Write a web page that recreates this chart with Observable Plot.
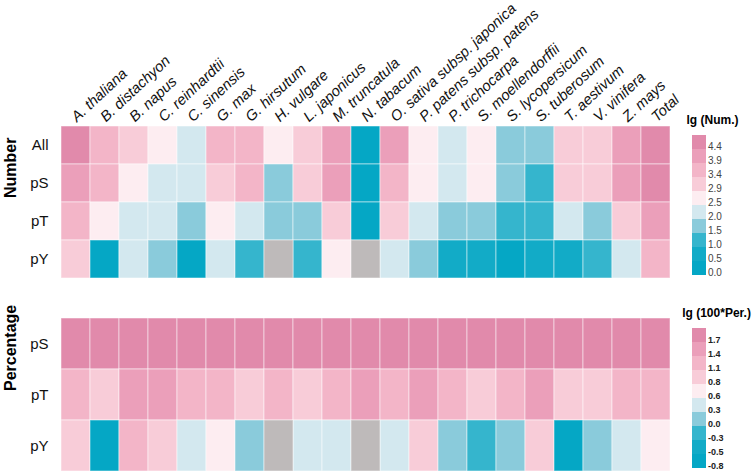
<!DOCTYPE html>
<html><head><meta charset="utf-8">
<script src="https://cdn.jsdelivr.net/npm/d3@7"></script>
<script src="https://cdn.jsdelivr.net/npm/@observablehq/plot@0.6"></script>
<style>
body{margin:0;background:#fff;}
#root{position:relative;width:755px;height:475px;overflow:hidden;background:#fff;font-family:"Liberation Sans",Arial,sans-serif;}
#root > svg{position:absolute;}
</style></head><body><div id="root"></div>
<script>
const species = ["A. thaliana","B. distachyon","B. napus","C. reinhardtii","C. sinensis","G. max","G. hirsutum","H. vulgare","L. japonicus","M. truncatula","N. tabacum","O. sativa subsp. japonica","P. patens subsp. patens","P. trichocarpa","S. moellendorffii","S. lycopersicum","S. tuberosum","T. aestivum","V. vinifera","Z. mays","Total"];
const numRows = ["All","pS","pT","pY"];
const perRows = ["pS","pT","pY"];

// lg(Num.)
const numAll = [4.62,3.71,3.22,2.71,2.21,3.63,3.58,2.64,3.15,4.05,0.30,4.12,2.68,2.27,2.58,1.82,1.76,3.25,3.18,4.21,4.83];
const numPS  = [4.25,3.62,2.61,2.12,2.05,3.31,3.55,1.79,3.04,4.01,0.30,3.72,2.55,2.09,2.51,1.71,1.34,3.12,3.02,4.11,4.72];
const numPT  = [3.68,2.55,2.03,2.11,1.62,2.58,2.14,1.54,1.69,3.02,0.00,2.95,2.06,1.78,1.56,1.38,1.21,2.07,1.85,3.05,4.05];
const numPY  = [2.96,0.48,2.02,1.59,0.30,2.06,1.11,null,1.04,2.53,null,2.16,1.51,0.60,0.78,0.48,0.70,0.85,1.18,2.22,3.52];

// lg(100*Per.)
const perPS = [1.92,1.93,1.90,1.91,1.94,1.93,1.89,1.95,1.92,1.91,1.95,1.93,1.89,1.92,1.90,1.93,1.88,1.94,1.93,1.92,1.91];
const perPT = [1.22,1.02,1.47,1.51,1.26,1.30,0.98,1.19,1.04,1.28,1.45,1.31,1.52,1.24,0.97,1.29,1.48,1.03,1.01,1.21,1.17];
const perPY = [0.96,-0.62,1.21,0.88,0.41,0.68,0.12,null,0.38,0.44,null,0.47,0.91,0.18,-0.14,0.21,0.86,-0.58,0.09,0.35,0.72];

const palette = ["#05a7c5","#12abc7","#35b5cd","#8acbdb","#d3e8ef","#fdedf1","#f8ccd8","#f3b5c8","#eb9fba","#e18aab"]; // low -> high
const naColor = "#bebaba";
const numThresholds = [0.5,1.0,1.5,2.0,2.5,2.9,3.4,3.9,4.4];
const perThresholds = [-0.5,-0.3,0.0,0.3,0.6,0.8,1.1,1.4,1.7];
const numTicks = ["4.4","3.9","3.4","2.9","2.5","2.0","1.5","1.0","0.5","0.0"];
const perTicks = ["1.7","1.4","1.1","0.8","0.6","0.3","0.0","-0.3","-0.5","-0.8"];

const font = '"Liberation Sans", Arial, sans-serif';
const root = document.getElementById("root");

function tidy(rows, values) {
  return rows.flatMap((r, i) => species.map((s, j) => ({row: r, sp: s, v: values[i][j]})));
}

function heatmap({rows, values, thresholds, top, height, marginTop, marginBottom, title, withLabels}) {
  const table = tidy(rows, values);
  const marks = [
    Plot.cell(table.filter(d => d.v != null), {x: "sp", y: "row", fill: "v", stroke: "#fff", strokeOpacity: 0.5, strokeWidth: 1}),
    Plot.cell(table.filter(d => d.v == null), {x: "sp", y: "row", fill: naColor, stroke: "#fff", strokeOpacity: 0.5, strokeWidth: 1}),
    Plot.axisY({tickSize: 0, tickPadding: 3, label: null, fontSize: 15, fill: "#111"}),
    Plot.text([title], {frameAnchor: "left", text: d => d, rotate: -90, dx: -41, dy: -4, fontSize: 16, fontWeight: "bold", fill: "#000"})
  ];
  if (withLabels) {
    marks.push(Plot.text(species, {x: d => d, text: d => d, frameAnchor: "top", rotate: -43, textAnchor: "start", lineAnchor: "bottom", dx: 1, dy: -2, fontSize: 14.8, fontStyle: "italic", fill: "#111"}));
  }
  const svg = Plot.plot({
    width: 680, height, marginTop, marginBottom, marginLeft: 51, marginRight: 1,
    x: {type: "band", domain: species, padding: 0, axis: null},
    y: {type: "band", domain: rows, padding: 0},
    color: {type: "threshold", domain: thresholds, range: palette},
    style: {fontFamily: font, background: "transparent", overflow: "visible", color: "#000"},
    marks
  });
  svg.style.left = "0px";
  svg.style.top = top + "px";
  root.appendChild(svg);
}

function legend({ticks, title, top, height, marginTop, marginBottom, titleDx, titleDy, fontSize, fontWeight, labelFill}) {
  const blockH = (height - marginTop - marginBottom) / ticks.length;
  const svg = Plot.plot({
    width: 75, height, marginTop, marginBottom, marginLeft: 12, marginRight: 49,
    x: {type: "band", domain: ["swatch"], padding: 0, axis: null},
    y: {type: "band", domain: ticks, padding: 0, axis: null},
    color: {type: "ordinal", domain: ticks, range: palette.slice().reverse()},
    style: {fontFamily: font, background: "transparent", overflow: "visible", color: "#000"},
    marks: [
      Plot.cell(ticks, {x: () => "swatch", y: d => d, fill: d => d}),
      Plot.text(ticks, {y: d => d, text: d => d, frameAnchor: "right", dx: 1.5, dy: blockH / 2, textAnchor: "start", lineAnchor: "bottom", fontSize, fontWeight, fill: labelFill}),
      Plot.text([title], {frameAnchor: "top-left", text: d => d, dx: titleDx, dy: titleDy, textAnchor: "start", lineAnchor: "bottom", fontSize: 12, fontWeight: "bold", fill: "#000"})
    ]
  });
  svg.style.left = "680px";
  svg.style.top = top + "px";
  root.appendChild(svg);
}

heatmap({rows: numRows, values: [numAll, numPS, numPT, numPY], thresholds: numThresholds, top: 0, height: 285, marginTop: 124, marginBottom: 6, title: "Number", withLabels: true});
heatmap({rows: perRows, values: [perPS, perPT, perPY], thresholds: perThresholds, top: 290, height: 185, marginTop: 27, marginBottom: 3, title: "Percentage", withLabels: false});
legend({ticks: numTicks, title: "lg (Num.)", top: 100, height: 185, marginTop: 31.7, marginBottom: 6, titleDx: -6, titleDy: -8.7, fontSize: 10, fontWeight: "normal", labelFill: "#444"});
legend({ticks: perTicks, title: "lg (100*Per.)", top: 295, height: 180, marginTop: 30, marginBottom: 3.3, titleDx: -10.3, titleDy: -8.3, fontSize: 9, fontWeight: "bold", labelFill: "#222"});
</script></body></html>
